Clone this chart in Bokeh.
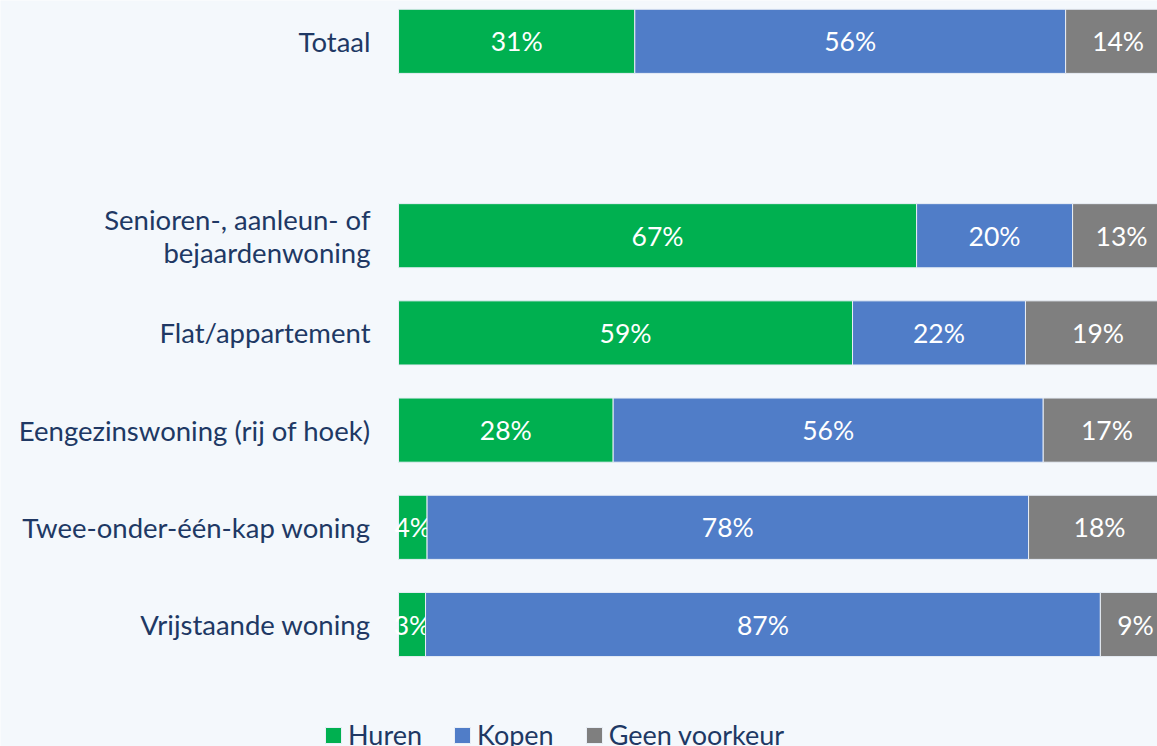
from bokeh.plotting import figure
from bokeh.models import Range1d, Legend, LegendItem, ColumnDataSource
from bokeh.core.properties import value
from bokeh.embed import file_html
from bokeh.resources import INLINE

# rows top to bottom; "" is an empty row (gap)
rows = ["Totaal", "", "Senioren-, aanleun- of\nbejaardenwoning", "Flat/appartement",
        "Eengezinswoning (rij of hoek)", "Twee-onder-één-kap woning", "Vrijstaande woning"]
categories = [r for r in rows if r]

huren = [30.6, 67.1, 58.8, 27.8, 3.7, 3.5]
kopen = [55.8, 20.2, 22.4, 55.7, 77.9, 87.4]
geen = [13.6, 12.7, 18.8, 16.5, 18.4, 9.1]
huren_lbl = ["31%", "67%", "59%", "28%", "4%", "3%"]
kopen_lbl = ["56%", "20%", "22%", "56%", "78%", "87%"]
geen_lbl = ["14%", "13%", "19%", "17%", "18%", "9%"]

series = [("Huren", huren, huren_lbl, "#00B050"),
          ("Kopen", kopen, kopen_lbl, "#507DC8"),
          ("Geen voorkeur", geen, geen_lbl, "#7F7F7F")]

FONT = "Lato"
TXT = "#203864"
BG = "#F4F8FC"

ypos = [len(rows) - rows.index(c) for c in categories]

p = figure(width=1157, height=746, output_backend="svg", toolbar_location=None,
           x_range=Range1d(-51.55, 98.3), y_range=Range1d(-0.255, 7.42),
           x_axis_location=None, y_axis_location=None,
           min_border_left=0, min_border_right=0, min_border_top=0, min_border_bottom=0,
           background_fill_color=BG, border_fill_color=BG)
p.outline_line_color = None
p.grid.visible = False

# category labels
p.text(x=[0] * len(categories), y=ypos, text=categories, x_offset=-28,
       text_align="right", text_baseline="middle", text_color=TXT,
       text_font=value(FONT), text_font_size="27.5px", text_line_height=1.0)

left = [0.0] * len(categories)
items = []
for name, vals, lbls, col in series:
    right = [l + v for l, v in zip(left, vals)]
    mid = [(l + r) / 2 for l, r in zip(left, right)]
    src = ColumnDataSource(dict(y=ypos, left=left, right=right, mid=mid, lbl=lbls))
    r = p.hbar(y="y", left="left", right="right", height=0.66, source=src,
               fill_color=col, line_color="#E8EEF6", line_width=1)
    p.text(x="mid", y="y", text="lbl", source=src, text_color="white",
           text_align="center", text_baseline="middle",
           text_font=value(FONT), text_font_size="26.5px")
    items.append(LegendItem(label=name, renderers=[r]))
    left = right

legend = Legend(items=items, location=(323, -5), orientation="horizontal",
                label_text_font=FONT, label_text_font_size="27px", label_text_color=TXT,
                glyph_width=20, glyph_height=20, label_standoff=5, spacing=30,
                padding=0, margin=0, border_line_color=None,
                background_fill_alpha=0)
p.add_layout(legend)

open("out.html", "w").write(file_html(p, INLINE))
